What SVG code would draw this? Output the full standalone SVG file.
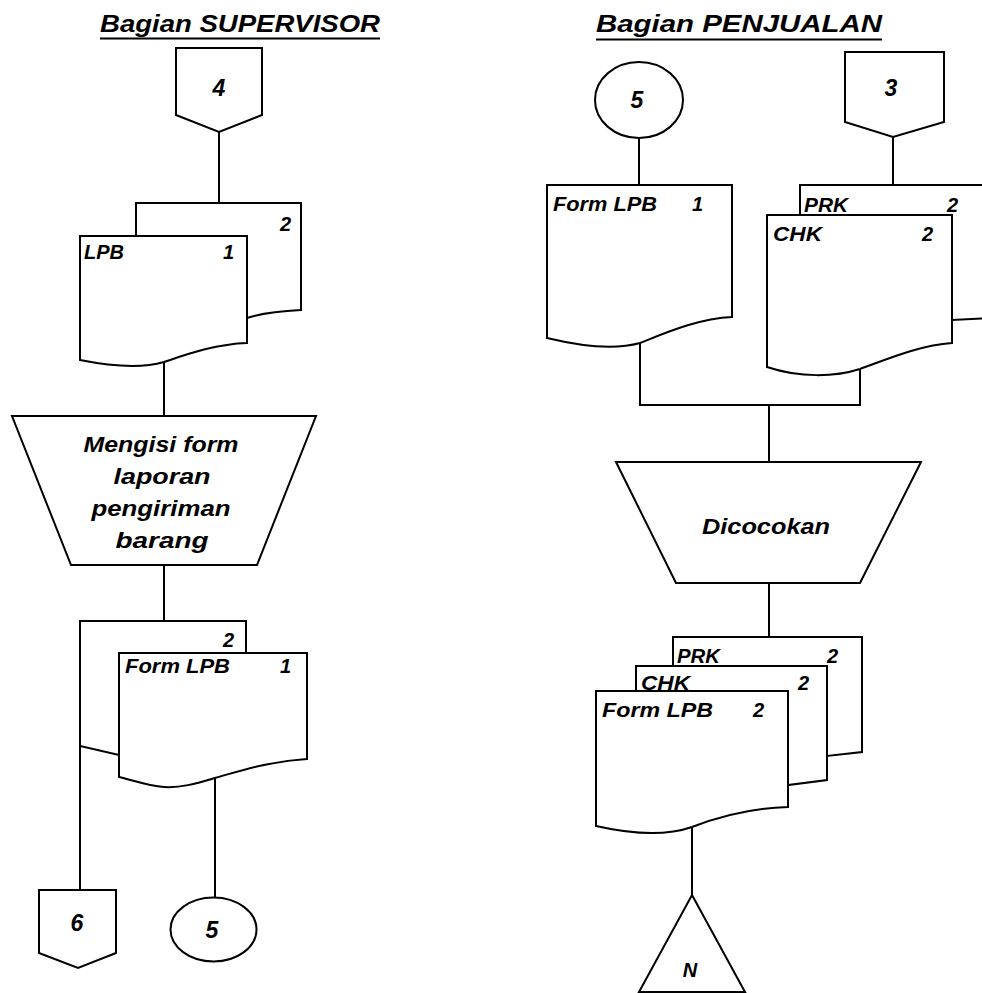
<svg xmlns="http://www.w3.org/2000/svg" width="982" height="993" viewBox="0 0 982 993">
<style>
.s{fill:#fff;stroke:#000;stroke-width:2;stroke-linejoin:miter}
.c{fill:none;stroke:#000;stroke-width:2}
text{font-family:"Liberation Sans",Arial,sans-serif;font-weight:bold;font-style:italic;fill:#000}
.t{font-size:24px}
.l{font-size:20px}
.p{font-size:22px;text-anchor:middle}
.n{font-size:23px;text-anchor:middle}
</style>
<rect width="982" height="993" fill="#fff"/>
<g id="titles">
<text class="t" x="100" y="32" textLength="280" lengthAdjust="spacingAndGlyphs">Bagian SUPERVISOR</text>
<line x1="100" y1="38.5" x2="380" y2="38.5" stroke="#000" stroke-width="2"/>
<text class="t" x="596" y="32" textLength="286" lengthAdjust="spacingAndGlyphs">Bagian PENJUALAN</text>
<line x1="596" y1="39.5" x2="882" y2="39.5" stroke="#000" stroke-width="2"/>
</g>
<g id="connectors">
<path class="c" d="M219,132 V203"/>
<path class="c" d="M164,362 V416"/>
<path class="c" d="M164,565 V621"/>
<path class="c" d="M80,746 V890"/>
<path class="c" d="M215,778 V897"/>
<path class="c" d="M639,138 V185"/>
<path class="c" d="M893,137 V185"/>
<path class="c" d="M640,343 V405 H860 V369"/>
<path class="c" d="M769,405 V462"/>
<path class="c" d="M769,583 V637"/>
<path class="c" d="M692,827 V895"/>
</g>
<g id="off4">
<path class="s" d="M176,48 H262 V115 L219,132 L176,115 Z"/>
<text class="n" x="219" y="96">4</text>
</g>
<g id="doc-lpb2-sup">
<path class="s" d="M136,203 H301 V310 C280,311 262,313 247,318 L136,318 Z"/>
<text class="l" x="280" y="231">2</text>
</g>
<g id="doc-lpb1-sup">
<path class="s" d="M80,236 H247 V343 C215,344 185,355 164,362 C140,369 110,366 80,360 Z"/>
<text class="l" x="84" y="259" textLength="40" lengthAdjust="spacingAndGlyphs">LPB</text>
<text class="l" x="223" y="259">1</text>
</g>
<g id="proc-mengisi">
<path class="s" d="M12,416 H316 L257,565 H71 Z"/>
<text class="p" x="161" y="452" textLength="155" lengthAdjust="spacingAndGlyphs">Mengisi form</text>
<text class="p" x="162" y="484" textLength="97" lengthAdjust="spacingAndGlyphs">laporan</text>
<text class="p" x="161" y="516" textLength="139" lengthAdjust="spacingAndGlyphs">pengiriman</text>
<text class="p" x="162" y="548" textLength="93" lengthAdjust="spacingAndGlyphs">barang</text>
</g>
<g id="doc-formlpb2-sup">
<path class="s" d="M80,621 H246 V755 H119 L80,746 Z"/>
<text class="l" x="223" y="647">2</text>
</g>
<g id="doc-formlpb1-sup">
<path class="s" d="M119,653 H307 V759 C265,762 240,771 215,778 C195,784 180,788 164,787 C148,786 132,780 119,777 Z"/>
<text class="l" x="125" y="673" textLength="105" lengthAdjust="spacingAndGlyphs">Form LPB</text>
<text class="l" x="280" y="673">1</text>
</g>
<g id="off6">
<path class="s" d="M39,890 H116 V953 L78,968 L39,953 Z"/>
<text class="n" x="77" y="931">6</text>
</g>
<g id="conn5-sup">
<ellipse class="s" cx="213.5" cy="929.5" rx="43" ry="32"/>
<text class="n" x="212" y="938">5</text>
</g>
<g id="conn5-pen">
<ellipse class="s" cx="639" cy="100" rx="44" ry="38"/>
<text class="n" x="637" y="108">5</text>
</g>
<g id="off3">
<path class="s" d="M845,52 H944 V122 L893,137 L845,122 Z"/>
<text class="n" x="891" y="96">3</text>
</g>
<g id="doc-formlpb1-pen">
<path class="s" d="M547,185 H732 V317 C700,318 665,333 640,343 C615,350 580,346 547,338 Z"/>
<text class="l" x="553" y="211" textLength="104" lengthAdjust="spacingAndGlyphs">Form LPB</text>
<text class="l" x="692" y="211">1</text>
</g>
<g id="doc-prk-top">
<path class="s" d="M800,185 H990 V318 L952,320 L952,215 L800,215 Z"/>
<text class="l" x="804" y="212" textLength="44" lengthAdjust="spacingAndGlyphs">PRK</text>
<text class="l" x="947" y="212">2</text>
</g>
<g id="doc-chk-top">
<path class="s" d="M767,215 H952 V343 C920,345 885,360 860,369 C835,377 800,378 767,367 Z"/>
<text class="l" x="773" y="241" textLength="49" lengthAdjust="spacingAndGlyphs">CHK</text>
<text class="l" x="922" y="241">2</text>
</g>
<g id="proc-dicocokan">
<path class="s" d="M616,462 H921 L860,583 H676 Z"/>
<text class="p" x="766" y="534" textLength="128" lengthAdjust="spacingAndGlyphs">Dicocokan</text>
</g>
<g id="doc-prk-bot">
<path class="s" d="M673,637 H862 V752 L827,756 V666 H673 Z"/>
<text class="l" x="677" y="663" textLength="43" lengthAdjust="spacingAndGlyphs">PRK</text>
<text class="l" x="827" y="663">2</text>
</g>
<g id="doc-chk-bot">
<path class="s" d="M636,666 H827 V780 L788,785 V691 H636 Z"/>
<text class="l" x="641" y="690" textLength="49" lengthAdjust="spacingAndGlyphs">CHK</text>
<text class="l" x="798" y="690">2</text>
</g>
<g id="doc-formlpb2-pen">
<path class="s" d="M596,691 H788 V807 C750,808 715,818 692,827 C672,834 640,836 596,826 Z"/>
<text class="l" x="602" y="717" textLength="111" lengthAdjust="spacingAndGlyphs">Form  LPB</text>
<text class="l" x="753" y="717">2</text>
</g>
<g id="term-n">
<path class="s" d="M692,895 L745,992 H639 Z"/>
<text class="n" x="690" y="977" style="font-size:20px">N</text>
</g>
</svg>
